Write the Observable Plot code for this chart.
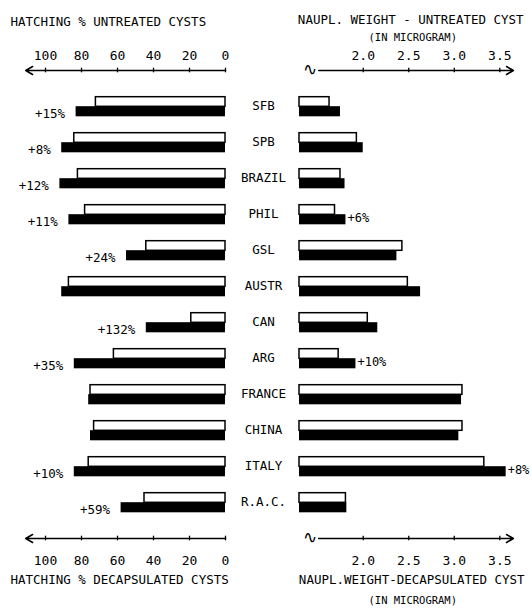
<!DOCTYPE html>
<html><head><meta charset="utf-8">
<script src="https://cdn.jsdelivr.net/npm/d3@7"></script>
<script src="https://cdn.jsdelivr.net/npm/@observablehq/plot@0.6"></script>
<style>
body{margin:0;background:#fff;}
#chart{position:relative;width:531px;height:614px;background:#fff;}
#chart svg{position:absolute;top:0;}
</style></head><body><div id="chart"></div>
<script>
// ---- data ----
const countries = ["SFB","SPB","BRAZIL","PHIL","GSL","AUSTR","CAN","ARG","FRANCE","CHINA","ITALY","R.A.C."];
const hatchUntreated = [72, 84, 82, 78, 44, 87, 19, 62, 75, 73, 76, 45];
const hatchDecap     = [83, 91, 92, 87, 55, 91, 44, 84, 76, 75, 84, 58];
const hatchGain      = ["+15%","+8%","+12%","+11%","+24%",null,"+132%","+35%",null,null,"+10%","+59%"];
const weightUntreated = [1.63, 1.93, 1.75, 1.69, 2.43, 2.49, 2.05, 1.73, 3.09, 3.09, 3.33, 1.81];
const weightDecap     = [1.75, 2.00, 1.80, 1.81, 2.37, 2.63, 2.16, 1.92, 3.08, 3.05, 3.57, 1.82];
const weightGain      = [null, null, null, "+6%", null, null, null, "+10%", null, null, "+8%", null];
const hatchTicks = [100, 80, 60, 40, 20, 0];
const weightTicks = [2.0, 2.5, 3.0, 3.5];
const weightTickLabels = ["2.0", "2.5", "3.0", "3.5"];
const hatchDomain = [100, 0];
const hatchAxisEnd = 111;
const weightDomain = [1.3, 3.7];
const weightAxis = [1.51, 3.65];
const weightBreak = 1.41;

// ---- tables ----
const rows = countries.map((c, i) => ({
  country: c, hu: hatchUntreated[i], hd: hatchDecap[i], hg: hatchGain[i],
  wu: weightUntreated[i], wd: weightDecap[i], wg: weightGain[i]
}));
const axisRows = ["_top", "_bot"];
const yDomain = ["_top", ...countries, "_bot"];
const hatchTickRows = axisRows.flatMap(a => hatchTicks.map(t => ({pos: a, v: t})));
const weightTickRows = axisRows.flatMap(a => weightTicks.map((t, i) => ({pos: a, v: t, label: weightTickLabels[i]})));

const FONT = "DejaVu Sans Mono";
const H = 614, MT = 48.8, MB = 55.8;
const step = (H - MT - MB) / yDomain.length;
const half = step / 2;
const style = {fontFamily: FONT, fontSize: "12.5px", color: "black", background: "transparent", overflow: "visible"};
const whiteBar = {fill: "white", stroke: "black", strokeWidth: 1.5, insetTop: half - 9.5, insetBottom: half - 0.5};
const blackBar = {fill: "black", insetTop: half, insetBottom: step - half - 10.5};
const tickInset = {stroke: "black", strokeWidth: 1.3, insetTop: half - 2.5, insetBottom: half - 2.5};

const left = Plot.plot({
  width: 310, height: H,
  marginLeft: 45, marginRight: 85, marginTop: MT, marginBottom: MB,
  style,
  x: {domain: hatchDomain, axis: null},
  y: {domain: yDomain, padding: 0, axis: null},
  marks: [
    Plot.barX(rows, {y: "country", x1: 0, x2: "hu", ...whiteBar}),
    Plot.barX(rows, {y: "country", x1: 0, x2: "hd", ...blackBar}),
    Plot.text(rows, {x: "hd", y: "country", text: "hg", filter: d => d.hg, textAnchor: "end", dx: -11, dy: 7, fontSize: 12.5}),
    Plot.text(rows, {y: "country", text: "country", frameAnchor: "right", dx: 38, dy: -1, textAnchor: "middle", fontSize: 12.5}),
    Plot.arrow(axisRows, {x1: 0, x2: hatchAxisEnd, y1: d => d, y2: d => d, stroke: "black", strokeWidth: 1.5, headLength: 8}),
    Plot.tickX(hatchTickRows, {x: "v", y: "pos", ...tickInset}),
    Plot.text(hatchTickRows, {x: "v", y: "pos", text: d => String(d.v), filter: d => d.pos === "_top", dy: -15, fontSize: 13}),
    Plot.text(hatchTickRows, {x: "v", y: "pos", text: d => String(d.v), filter: d => d.pos === "_bot", dy: 22, fontSize: 13}),
    Plot.text(["HATCHING % UNTREATED CYSTS"], {text: d => d, frameAnchor: "top-left", textAnchor: "start", dx: -35, dy: -32, fontSize: 12.5}),
    Plot.text(["HATCHING % DECAPSULATED CYSTS"], {text: d => d, frameAnchor: "bottom-left", textAnchor: "start", dx: -35, dy: 25, fontSize: 12.5})
  ]
});

const right = Plot.plot({
  width: 266, height: H,
  marginLeft: 34, marginRight: 13.5, marginTop: MT, marginBottom: MB,
  style,
  x: {domain: weightDomain, axis: null},
  y: {domain: yDomain, padding: 0, axis: null},
  marks: [
    Plot.barX(rows, {y: "country", x1: weightDomain[0], x2: "wu", ...whiteBar}),
    Plot.barX(rows, {y: "country", x1: weightDomain[0], x2: "wd", ...blackBar}),
    Plot.text(rows, {x: "wd", y: "country", text: "wg", filter: d => d.wg, textAnchor: "start", dx: 1.5, dy: 4, fontSize: 12}),
    Plot.arrow(axisRows, {x1: weightAxis[0], x2: weightAxis[1], y1: d => d, y2: d => d, stroke: "black", strokeWidth: 1.5, headLength: 8}),
    Plot.text(axisRows, {x: weightBreak, y: d => d, text: () => "∿", fontSize: 17, dy: -1}),
    Plot.tickX(weightTickRows, {x: "v", y: "pos", ...tickInset}),
    Plot.text(weightTickRows, {x: "v", y: "pos", text: "label", filter: d => d.pos === "_top", dy: -15, fontSize: 13}),
    Plot.text(weightTickRows, {x: "v", y: "pos", text: "label", filter: d => d.pos === "_bot", dy: 22, fontSize: 13}),
    Plot.text(["NAUPL. WEIGHT - UNTREATED CYST"], {text: d => d, frameAnchor: "top", dx: 2, dy: -34, fontSize: 12.5}),
    Plot.text(["(IN MICROGRAM)"], {text: d => d, frameAnchor: "top", dx: 4, dy: -16, fontSize: 10.5}),
    Plot.text(["NAUPL.WEIGHT-DECAPSULATED CYST"], {text: d => d, frameAnchor: "bottom", dx: 3, dy: 25, fontSize: 12.5}),
    Plot.text(["(IN MICROGRAM)"], {text: d => d, frameAnchor: "bottom", dx: 4, dy: 45, fontSize: 10.5})
  ]
});
right.style.left = "265px";
left.style.left = "0px";
const chart = document.getElementById("chart");
chart.appendChild(left);
chart.appendChild(right);
</script>
</body></html>
